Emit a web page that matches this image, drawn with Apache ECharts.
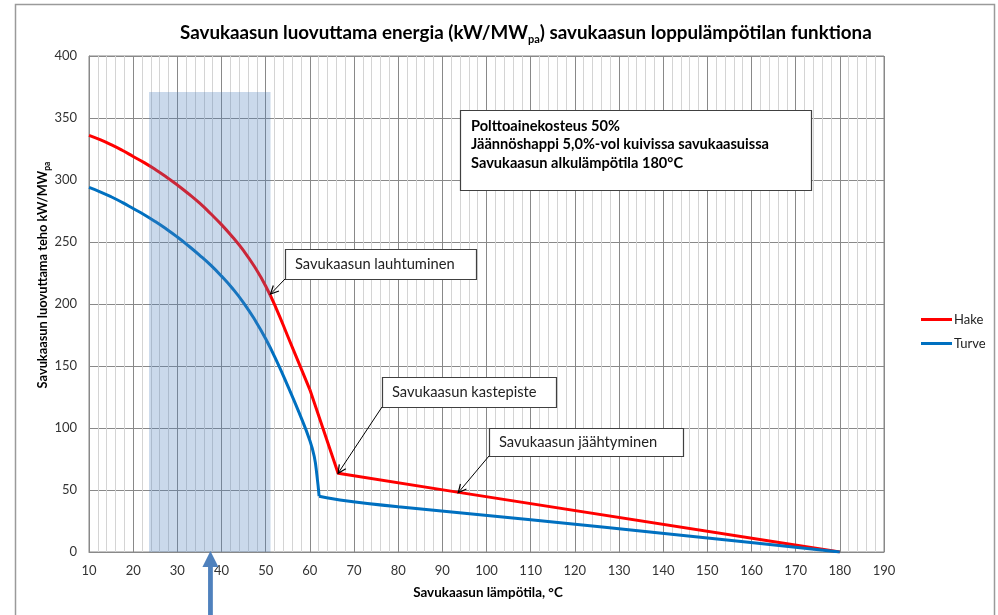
<!DOCTYPE html>
<html><head><meta charset="utf-8">
<script src="https://cdn.jsdelivr.net/npm/echarts@6/dist/echarts.min.js"></script>
<style>html,body{margin:0;padding:0;background:#fff}#c{width:998px;height:615px}</style>
</head><body><div id="c"></div>
<script>
// ---- data ----
const xTicks = [10,20,30,40,50,60,70,80,90,100,110,120,130,140,150,160,170,180,190];
const yTicks = [0,50,100,150,200,250,300,350,400];
// Hake: condensing (curved) part and cooling (straight) part
const hakeCurveT = [10,12.5,15,17.5,20,22.5,25,27.5,30,32.5,35,37.5,40,42.5,45,47.5,50,52.5,55,57.5,60];
const hakeCurveV = [336,332.5,328.5,324,319,314,308.5,302.5,296,289,281.5,273,264,254,243,230,214.5,195.5,174,152.5,131];
const hakeTailT = [60,66.4,93,180];
const hakeTailV = [131,63.5,48.5,0];
// Turve
const turveCurveT = [10,12.5,15,17.5,20,22.5,25,27.5,30,32.5,35,37.5,40,42.5,45,47.5,50,52.5,55,57.5,60,61,61.6,62.1];
const turveCurveV = [294,290.5,286.5,282,277,272,266.5,260.5,254,247,239.5,231.5,222.5,212.5,201,187.5,172,154,134,113,90,77,62,45];
const turveTailT = [62.1,66.8,80,110,143.5,180];
const turveTailV = [45,42,36.5,26,13.7,0];
const shadeT = [23.6, 51.1];
const shadeV = [0, 371];
const infoLines = ['Polttoainekosteus 50%', 'Jäännöshappi 5,0%-vol kuivissa savukaasuissa', 'Savukaasun alkulämpötila 180°C'];
const noteTexts = ['Savukaasun lauhtuminen', 'Savukaasun kastepiste', 'Savukaasun jäähtyminen'];
const noteTargets = [[51.1, 208], [66.4, 63.5], [93.6, 47.8]];
const arrowT = 37.5;

const FONT = 'Lato';
const chart = echarts.init(document.getElementById('c'));
const major = '#898989', minor = '#d4d4d4';
const RED = '#ff0000', BLUE = '#0070c0';
const pairs = (T, V) => T.map((t, i) => [t, V[i]]);

chart.setOption({
  animation: false,
  backgroundColor: '#fff',
  title: {
    left: 175, top: 16,
    text: '{a|Savukaasun luovuttama energia (kW/MW}{s|pa}{a|) savukaasun loppulämpötilan funktiona}',
    textStyle: {
      rich: {
        a: {fontFamily: FONT, fontSize: 18.8, fontWeight: 'bold', color: '#000', lineHeight: 24},
        s: {fontFamily: FONT, fontSize: 11, fontWeight: 'bold', color: '#000', lineHeight: 24, verticalAlign: 'bottom'}
      }
    }
  },
  legend: {
    data: ['Hake', 'Turve'], orient: 'vertical', left: 916, top: 308,
    icon: 'rect', itemWidth: 31, itemHeight: 3, itemGap: 11,
    textStyle: {fontFamily: FONT, fontSize: 13, color: '#222', padding: [0,0,0,-3]}
  },
  grid: {left: 89, right: 114, top: 56, bottom: 63, show: true, borderColor: major, borderWidth: 1},
  xAxis: {
    type: 'value', min: xTicks[0], max: xTicks[xTicks.length-1], interval: 10,
    axisLine: {show: true, lineStyle: {color: major}},
    axisTick: {show: false},
    axisLabel: {fontFamily: FONT, fontSize: 13, color: '#333', margin: 12},
    splitLine: {show: true, lineStyle: {color: major, width: 1}},
    minorTick: {show: false, splitNumber: 5},
    minorSplitLine: {show: true, lineStyle: {color: minor, width: 1}}
  },
  yAxis: {
    type: 'value', min: yTicks[0], max: yTicks[yTicks.length-1], interval: 50,
    axisLine: {show: true, lineStyle: {color: major}},
    axisTick: {show: false},
    axisLabel: {fontFamily: FONT, fontSize: 13, color: '#333', margin: 12},
    splitLine: {show: true, lineStyle: {color: major, width: 1}}
  },
  series: [
    {name: 'Hake', type: 'line', data: pairs(hakeCurveT, hakeCurveV), showSymbol: false, smooth: 0.5,
     lineStyle: {color: RED, width: 3}, itemStyle: {color: RED}, z: 3},
    {name: 'Hake', type: 'line', data: pairs(hakeTailT, hakeTailV), showSymbol: false,
     lineStyle: {color: RED, width: 3}, itemStyle: {color: RED}, z: 3},
    {name: 'Turve', type: 'line', data: pairs(turveCurveT, turveCurveV), showSymbol: false, smooth: 0.5,
     lineStyle: {color: BLUE, width: 3}, itemStyle: {color: BLUE}, z: 3},
    {name: 'Turve', type: 'line', data: pairs(turveTailT, turveTailV), showSymbol: false, smooth: 0.2,
     lineStyle: {color: BLUE, width: 3}, itemStyle: {color: BLUE}, z: 3},
    {name: 'shade', type: 'custom', z: 5, silent: true,
     data: [[shadeT[0], shadeV[0], shadeT[1], shadeV[1]]],
     renderItem: function(params, api) {
       const p0 = api.coord([api.value(0), api.value(1)]);
       const p1 = api.coord([api.value(2), api.value(3)]);
       return {type: 'rect', shape: {x: p0[0], y: p1[1], width: p1[0]-p0[0], height: p0[1]-p1[1]},
               style: {fill: 'rgba(79,129,189,0.3)'}};
     }}
  ]
});

function arrowHead(tip, from, len, ang) {
  const dx = tip[0]-from[0], dy = tip[1]-from[1];
  const a = Math.atan2(dy, dx);
  const p1 = [tip[0] - len*Math.cos(a-ang), tip[1] - len*Math.sin(a-ang)];
  const p2 = [tip[0] - len*Math.cos(a+ang), tip[1] - len*Math.sin(a+ang)];
  return [p1, tip, p2];
}

const boxes = [
  {x: 285, y: 249, w: 191, h: 30, tail: [285, 279]},
  {x: 382, y: 377, w: 174, h: 30, tail: [382, 407]},
  {x: 489, y: 428, w: 194, h: 28, tail: [489, 456]}
];
const g = [];
g.push({type: 'rect', shape: {x: 15.5, y: 4.5, width: 979, height: 700}, style: {fill: 'none', stroke: '#9a9a9a', lineWidth: 1.5}, z: 0, silent: true});
// info box
g.push({type: 'rect', shape: {x: 460.5, y: 110.5, width: 351, height: 80}, style: {fill: '#fff', stroke: '#404040', lineWidth: 1.2}, z: 10});
infoLines.forEach((t, i) => {
  g.push({type: 'text', x: 471, y: 126 + i*18.7, style: {text: t, font: 'bold 14.6px ' + FONT, fill: '#000', textVerticalAlign: 'middle'}, z: 11});
});
boxes.forEach((b, i) => {
  g.push({type: 'rect', shape: {x: b.x+0.5, y: b.y+0.5, width: b.w, height: b.h}, style: {fill: '#fff', stroke: '#404040', lineWidth: 1.2}, z: 10});
  g.push({type: 'text', x: b.x + 10, y: b.y + b.h/2, style: {text: noteTexts[i], font: '14.7px ' + FONT, fill: '#222', textVerticalAlign: 'middle'}, z: 11});
  const tip = chart.convertToPixel({gridIndex: 0}, noteTargets[i]);
  g.push({type: 'line', shape: {x1: b.tail[0], y1: b.tail[1], x2: tip[0], y2: tip[1]}, style: {stroke: '#000', lineWidth: 1}, z: 11});
  g.push({type: 'polyline', shape: {points: arrowHead(tip, b.tail, 9, 0.45)}, style: {stroke: '#000', lineWidth: 1.2, fill: null}, z: 11});
});
// y axis name
g.push({type: 'text', x: 43, y: 275, rotation: Math.PI/2,
  style: {text: '{a|Savukaasun luovuttama teho kW/MW}{s|pa}', align: 'center', verticalAlign: 'middle',
    rich: {a: {font: 'bold 12.8px ' + FONT, fill: '#000', lineHeight: 17},
           s: {font: 'bold 8.5px ' + FONT, fill: '#000', lineHeight: 17, verticalAlign: 'bottom'}}}, z: 5});
// x axis name
g.push({type: 'text', x: 488, y: 593, style: {text: 'Savukaasun lämpötila, °C', font: 'bold 13.4px ' + FONT, fill: '#000', align: 'center', verticalAlign: 'middle'}, z: 5});
// blue arrow
const ax = chart.convertToPixel({gridIndex: 0}, [arrowT, 0]);
g.push({type: 'rect', shape: {x: ax[0]-2.4, y: ax[1]+14, width: 4.8, height: 80}, style: {fill: '#4f81bd'}, z: 12});
g.push({type: 'polygon', shape: {points: [[ax[0], ax[1]-1], [ax[0]-8, ax[1]+15], [ax[0]+8, ax[1]+15]]}, style: {fill: '#4f81bd'}, z: 12});
chart.setOption({graphic: g});
</script>
</body></html>
